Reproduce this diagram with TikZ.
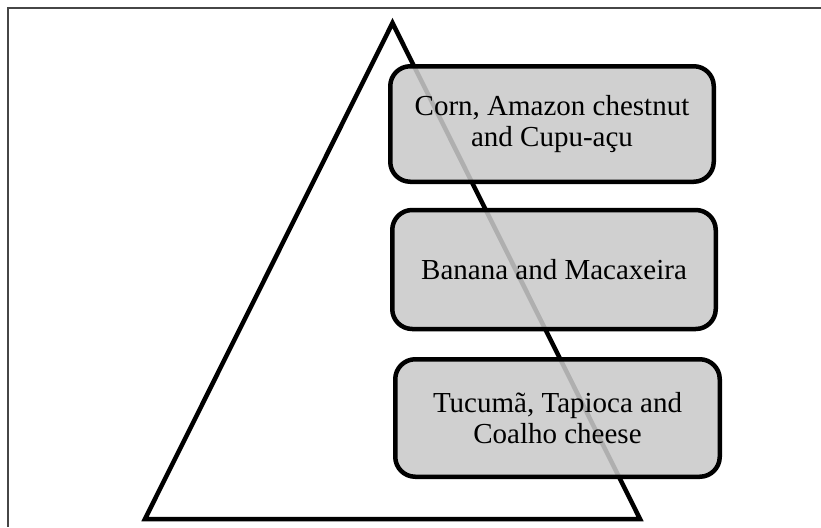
\documentclass[tikz,border=0pt]{standalone}
\usepackage{fontspec}
\setmainfont{Liberation Serif}
\usepackage{xcolor}
\usetikzlibrary{calc, positioning}
\definecolor{tierfill}{RGB}{201,201,201}
\definecolor{framegray}{RGB}{70,70,70}
\tikzset{
    tier/.style={rectangle, rounded corners=20pt, draw=black, line width=4.5pt, fill=tierfill, fill opacity=0.875, text opacity=1, align=center, inner sep=0pt, font=\fontsize{29}{31}\selectfont},
    pyramid/.style={draw=black, line width=4.5pt, line join=miter},
    frame/.style={draw=framegray, line width=1.5pt}
}

\begin{document}
\begin{tikzpicture}[x=1pt, y=-1pt]
    \useasboundingbox (0,0) rectangle (821,527);

    % Frame (top and left edges only)
    \coordinate (fTR) at (821,8);
    \coordinate (fTL) at (8,8);
    \coordinate (fBL) at (8,527);
    \draw[frame] (fTR) -- (fTL) -- (fBL);

    % Pyramid
    \coordinate (apex) at (392.5,23);
    \coordinate (baseL) at (145,519);
    \coordinate (baseR) at (640,519);
    \draw[pyramid] (apex) -- (baseR) -- (baseL) -- cycle;

    % Tiers
    \node[tier, minimum width=323.5pt, minimum height=115.5pt] (top) at (552,124) {Corn, Amazon chestnut\\and Cupu-açu};
    \node[tier, minimum width=323.5pt, minimum height=119pt] (mid) at (554,269.5) {Banana and Macaxeira};
    \node[tier, minimum width=324.5pt, minimum height=117.5pt] (low) at (557.5,418) {Tucumã, Tapioca and\\Coalho cheese};
\end{tikzpicture}
\end{document}
